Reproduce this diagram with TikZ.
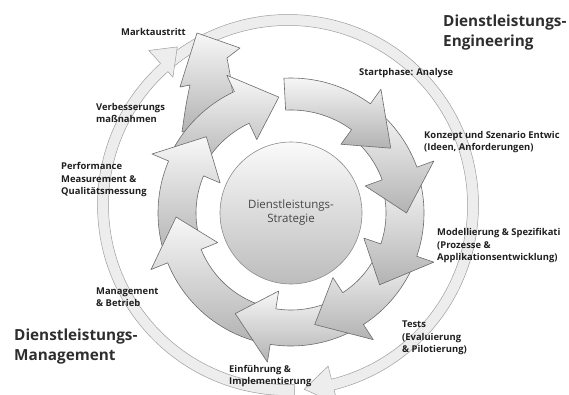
\documentclass[tikz,border=0pt]{standalone}
\usepackage{fontspec}
\setmainfont{Open Sans}
\begin{document}
\begin{tikzpicture}[x=1pt, y=1pt, line join=round, line cap=round,
	pfeil/.style={draw=black!58, line width=.6pt, top color=black!3, bottom color=black!30},
	band/.style={draw=black!38, line width=.5pt, fill=black!7},
	lbl/.style={anchor=west, inner sep=0pt, align=left, text=black!88, font=\bfseries\fontsize{9.4}{12.5}\selectfont},
	titel/.style={anchor=west, inner sep=0pt, align=left, text=black!82, font=\bfseries\fontsize{15.3}{20}\selectfont}]
	\useasboundingbox (0,0) rectangle (569,394);
	\clip (0,0) rectangle (569,394);
	% outer ring: engineering and management
	\begin{scope}[shift={(288,189)}]
		\draw[band] (131:190.5) arc[start angle=131, end angle=-76, radius=190.5] -- (-76:205) -- (-85:185) -- (-76:166) -- (-76:179.5) arc[start angle=-76, end angle=131, radius=179.5] -- cycle;
		\draw[band] (-88:190.5) arc[start angle=-88, end angle=-228, radius=190.5] -- (-228:208) -- (-235:193) -- (-228:172) -- (-228:179.5) arc[start angle=-228, end angle=-88, radius=179.5] -- cycle;
	\end{scope}
	% exit arrow
	\draw[pfeil] (182,262) .. controls (186,290) .. (190,309) -- (180,307) -- (197,361) -- (240,346) -- (227,336) .. controls (231,315) .. (236,272) -- cycle;
	% cycle of arrows
	\begin{scope}[shift={(291,181)}]
		\foreach \s/\b/\t/\ri/\ro in {154/115/96/99/134, 199/157/138/95/133, 258/202/182/97/133, -60/-99/-119/97/133, -22/-57/-78/95/133, 17/-19/-39/95/133, 51/20/0/97/134, 93/54/33/103/135}
		\draw[pfeil] (\s:\ro) arc[start angle=\s, end angle=\b, radius=\ro] -- (\b:{\ro+18}) -- (\t:{(\ri+\ro)/2}) -- (\b:{\ri-18}) -- (\b:\ri) arc[start angle=\b, end angle=\s, radius=\ri] -- cycle;
	\end{scope}
	\node[circle, minimum size=142pt, draw=black!45, line width=.6pt, top color=black!2, bottom color=black!26, align=center, text=black!72, font=\fontsize{11.5}{14}\selectfont] (strategie) at (291,181) {Dienstleistungs-\\Strategie};
	% labels
	\node[lbl] (markt) at (121,362) {Marktaustritt};
	\node[lbl] (verb) at (96,281) {Verbesserungs\\maßnahmen};
	\node[lbl] (perf) at (61,214) {Performance\\Measurement \&\\Qualitätsmessung};
	\node[lbl] (betrieb) at (96,97) {Management\\\& Betrieb};
	\node[lbl] (einf) at (229,18) {Einführung \&\\Implementierung};
	\node[lbl] (tests) at (402,56) {Tests\\(Evaluierung\\\& Pilotierung)};
	\node[lbl] (modell) at (437,148) {Modellierung \& Spezifikati\\(Prozesse \&\\Applikationsentwicklung)};
	\node[lbl] (konzept) at (424,252) {Konzept und Szenario Entwic\\(Ideen, Anforderungen)};
	\node[lbl] (start) at (359,321) {Startphase: Analyse};
	\node[titel] (eng) at (443,361) {Dienstleistungs-\\Engineering};
	\node[titel] (mgmt) at (14,47) {Dienstleistungs-\\Management};
\end{tikzpicture}
\end{document}
